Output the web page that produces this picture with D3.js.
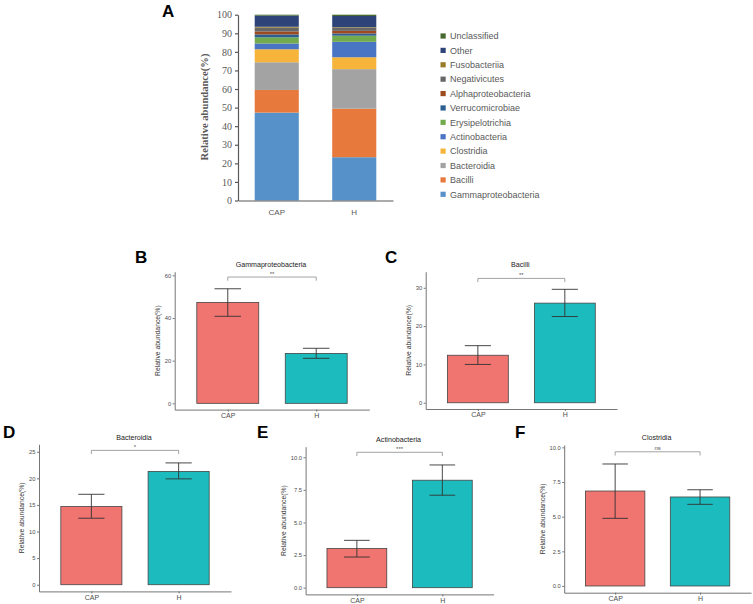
<!DOCTYPE html>
<html><head><meta charset="utf-8">
<script src="https://cdn.jsdelivr.net/npm/d3@7"></script>
<style>body{margin:0;background:#fff}svg{display:block}</style>
</head><body><div id="chart"></div>
<script>
// ---------- DATA ----------
const categories = ["CAP", "H"];
const taxa = ["Gammaproteobacteria","Bacilli","Bacteroidia","Clostridia","Actinobacteria","Erysipelotrichia","Verrucomicrobiae","Alphaproteobacteria","Negativicutes","Fusobacteriia","Other","Unclassified"];
const capAbundance = [47.3, 12.2, 14.9, 7.0, 3.1, 3.3, 1.6, 1.6, 2.0, 0.5, 6.0, 0.5];
const hAbundance   = [23.3, 26.1, 21.3, 6.4, 8.3, 3.3, 1.2, 1.4, 1.7, 0.3, 6.0, 0.7];
const taxaColors = ["#5692c9","#e8793d","#a3a3a3","#f6b53a","#4a74c4","#72ab4e","#2c5f8f","#9c4a1e","#676767","#9a7a2b","#2e4479","#47682f"];
const stackTicks = [0,10,20,30,40,50,60,70,80,90,100];

const panelLetters = ["B","C","D","E","F"];
const panelTitles = ["Gammaproteobacteria","Bacilli","Bacteroidia","Actinobacteria","Clostridia"];
const meanCAP = [47.3, 12.4, 14.7, 3.0, 6.85];
const meanH   = [23.4, 26.0, 21.3, 8.24, 6.42];
const errHiCAP = [53.7, 14.9, 17.0, 3.63, 8.8];
const errLoCAP = [40.8, 10.0, 12.5, 2.35, 4.88];
const errHiH   = [25.8, 29.6, 22.9, 9.41, 6.94];
const errLoH   = [21.1, 22.5, 19.9, 7.09, 5.89];
const sigLabels = ["**","**","*","***","ns"];
const sigLevel  = [59.2, 32.45, 25.26, 10.38, 9.68];
const axisMax   = [61.7, 34.2, 26.4, 10.81, 10.17];
const tickSets  = [[0,20,40,60],[0,10,20,30],[0,5,10,15,20,25],[0,2.5,5,7.5,10],[0,2.5,5,7.5,10]];
const tickFormats = ["d","d","d",".1f",".1f"];
const groupFill = ["#F07470","#1CBCBE"];

// ---------- LAYOUT ----------
const W = 753, H = 604;
const svg = d3.select("#chart").append("svg").attr("width", W).attr("height", H);

// Panel A
const yA = d3.scaleLinear().domain([0,100]).range([200.5,14.7]);
const xA = d3.scaleBand().domain(categories).range([238,393]).paddingInner(0.431).paddingOuter(0.2155);
const rows = categories.map((c,i) => {
  const o = {group:c};
  taxa.forEach((t,j) => o[t] = (i===0 ? capAbundance : hAbundance)[j]);
  return o;
});
const stacked = d3.stack().keys(taxa)(rows);
const gA = svg.append("g");
gA.selectAll("g.layer").data(stacked).join("g")
  .attr("fill", (d,i) => taxaColors[i])
  .selectAll("rect").data(d => d).join("rect")
  .attr("x", d => xA(d.data.group))
  .attr("width", xA.bandwidth())
  .attr("y", d => yA(d[1]))
  .attr("height", d => yA(d[0]) - yA(d[1]));

const axA = gA.append("g").attr("transform","translate(238,0)")
  .call(d3.axisLeft(yA).tickValues(stackTicks).tickSize(3).tickSizeOuter(0).tickPadding(3));
axA.selectAll("path,line").attr("stroke","#595959").attr("stroke-width",1.2);
axA.selectAll("text").attr("font-family","Liberation Serif").attr("font-size",10).attr("fill","#595959");
const axAx = gA.append("g").attr("transform","translate(0,200.5)")
  .call(d3.axisBottom(xA).tickSize(0).tickPadding(9));
axAx.select("path").attr("stroke","#595959").attr("stroke-width",1.2);
axAx.selectAll("text").attr("font-family","Liberation Sans").attr("font-size",8).attr("fill","#595959");

gA.append("text").attr("transform","translate(208,107) rotate(-90)")
  .attr("text-anchor","middle").attr("font-family","Liberation Serif").attr("font-weight","bold")
  .attr("font-size",10.6).attr("fill","#595959").text("Relative abundance(%)");
svg.append("text").attr("x",162).attr("y",17).attr("font-family","Liberation Sans")
  .attr("font-weight","bold").attr("font-size",17).text("A");

// Legend
const legY = d3.scalePoint().domain(taxa.slice().reverse()).range([36,194.3]);
const leg = svg.append("g").selectAll("g").data(taxa).join("g")
  .attr("transform", d => `translate(440.5,${legY(d)})`);
leg.append("rect").attr("x",0).attr("y",-2.6).attr("width",5.2).attr("height",5.2)
  .attr("fill",(d,i)=>taxaColors[i]);
leg.append("text").attr("x",9.5).attr("y",3.2).attr("font-family","Liberation Sans")
  .attr("font-size",9).attr("fill","#595959").text(d=>d);

// ---------- Panels B-F ----------
const panelBox = [
  {x0:174.7, x1:369.3, top:271.7, bot:409.6, lx:135, ly:263},
  {x0:425.7, x1:617.0, top:271.7, bot:409.0, lx:385, ly:263},
  {x0:39.0,  x1:231.0, top:444.3, bot:591.4, lx:3,   ly:438},
  {x0:305.6, x1:493.6, top:446.7, bot:594.4, lx:257, ly:438},
  {x0:564.2, x1:751.0, top:445.0, bot:592.7, lx:515, ly:438}
];
const FONT = "Liberation Sans";

panelTitles.forEach((title, i) => {
  const b = panelBox[i];
  const hi = axisMax[i], lo = -hi*0.05/1.05;
  const x = d3.scaleLinear().domain([0.4,2.6]).range([b.x0,b.x1]);
  const y = d3.scaleLinear().domain([lo,hi]).range([b.bot,b.top]);
  const g = svg.append("g");
  const means = [meanCAP[i], meanH[i]];
  const eHi = [errHiCAP[i], errHiH[i]];
  const eLo = [errLoCAP[i], errLoH[i]];

  g.selectAll("rect.bar").data(means).join("rect")
    .attr("x",(d,k)=>x(k+1-0.35)).attr("width", x(1.35)-x(0.65))
    .attr("y", d=>y(d)).attr("height", d=>y(0)-y(d))
    .attr("fill",(d,k)=>groupFill[k]).attr("stroke","#454545").attr("stroke-width",0.8);

  // error bars
  const eb = g.selectAll("g.eb").data(means).join("g").attr("stroke","#333").attr("stroke-width",0.9);
  eb.append("line").attr("x1",(d,k)=>x(k+1)).attr("x2",(d,k)=>x(k+1))
    .attr("y1",(d,k)=>y(eHi[k])).attr("y2",(d,k)=>y(eLo[k]));
  eb.append("line").attr("x1",(d,k)=>x(k+1-0.15)).attr("x2",(d,k)=>x(k+1+0.15))
    .attr("y1",(d,k)=>y(eHi[k])).attr("y2",(d,k)=>y(eHi[k]));
  eb.append("line").attr("x1",(d,k)=>x(k+1-0.15)).attr("x2",(d,k)=>x(k+1+0.15))
    .attr("y1",(d,k)=>y(eLo[k])).attr("y2",(d,k)=>y(eLo[k]));

  // axes
  const ay = g.append("g").attr("transform",`translate(${b.x0},0)`)
    .call(d3.axisLeft(y).tickValues(tickSets[i]).tickFormat(d3.format(tickFormats[i]))
      .tickSize(2).tickSizeOuter(0).tickPadding(1.5));
  ay.selectAll("path,line").attr("stroke","#666").attr("stroke-width",0.9);
  ay.selectAll("text").attr("font-family",FONT).attr("font-size",5.8).attr("fill","#4d4d4d");
  const ax = g.append("g").attr("transform",`translate(0,${b.bot})`)
    .call(d3.axisBottom(x).tickValues([1,2]).tickFormat(d=>categories[d-1])
      .tickSize(2).tickSizeOuter(0).tickPadding(1.5));
  ax.selectAll("path,line").attr("stroke","#666").attr("stroke-width",0.9);
  ax.selectAll("text").attr("font-family",FONT).attr("font-size",7).attr("fill","#4d4d4d");

  let maxW = 0;
  ay.selectAll("text").each(function(){ maxW = Math.max(maxW, this.getComputedTextLength()); });
  g.append("text").attr("transform",`translate(${b.x0-3.5-maxW-4.8},${(b.top+b.bot)/2}) rotate(-90)`)
    .attr("text-anchor","middle").attr("font-family",FONT).attr("font-size",6.8).attr("fill","#333")
    .text("Relative abundance(%)");

  // significance bracket
  const s = y(sigLevel[i]);
  g.append("path").attr("d",`M${x(1)},${s+3.7}L${x(1)},${s}L${x(2)},${s}L${x(2)},${s+3.7}`)
    .attr("fill","none").attr("stroke","#8c8c8c").attr("stroke-width",0.8);
  g.append("text").attr("x",(x(1)+x(2))/2).attr("y",s-1.4).attr("text-anchor","middle")
    .attr("font-family",FONT).attr("font-size",6).attr("fill","#555").text(sigLabels[i]);

  // title & letter
  g.append("text").attr("x",(b.x0+b.x1)/2 - 1).attr("y",b.top-4.7).attr("text-anchor","middle")
    .attr("font-family",FONT).attr("font-size",7.1).attr("fill","#222").text(title);
  svg.append("text").attr("x",b.lx).attr("y",b.ly).attr("font-family",FONT)
    .attr("font-weight","bold").attr("font-size",17).text(panelLetters[i]);
});
</script></body></html>
